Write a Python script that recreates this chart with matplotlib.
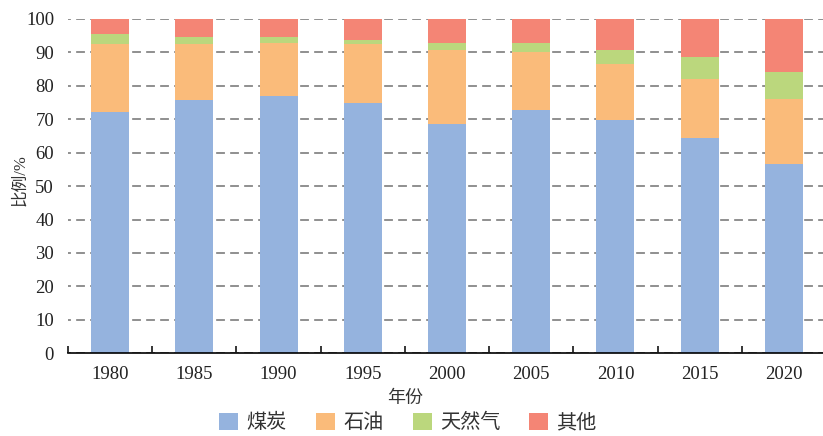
import numpy as np
import matplotlib.pyplot as plt
from matplotlib.patches import Patch

plt.rcParams['font.family'] = ['Liberation Serif', 'Noto Sans CJK SC']

years = ['1980', '1985', '1990', '1995', '2000', '2005', '2010', '2015', '2020']
coal = [72.2, 75.8, 77.0, 74.9, 68.6, 72.8, 69.8, 64.4, 56.6]
oil = [20.3, 16.7, 15.9, 17.7, 22.2, 17.4, 16.7, 17.6, 19.3]
gas = [3.0, 2.1, 1.7, 1.1, 2.0, 2.6, 4.2, 6.6, 8.2]
other = [4.5, 5.4, 5.4, 6.3, 7.2, 7.2, 9.3, 11.4, 15.9]

series_names = ['煤炭', '石油', '天然气', '其他']
colors = ['#95B3DE', '#FABB7A', '#BBD77D', '#F48575']

W, H = 823, 436
fig = plt.figure(figsize=(W / 100, H / 100), dpi=100)
ax = fig.add_axes([68 / W, (H - 353.3) / H, (826 - 68) / W, (353.3 - 18.9) / H])

x = np.arange(len(years))
bottom = np.zeros(len(years))
for vals, c in zip([coal, oil, gas, other], colors):
    ax.bar(x, vals, width=0.45, bottom=bottom, color=c, zorder=2)
    bottom += np.array(vals)

ax.set_xlim(-0.5, 8.5)
ax.set_ylim(0, 100)
ax.set_yticks(np.arange(0, 101, 10))
ax.set_xticks(x)
ax.set_xticklabels(years)
ax.set_xticks(np.arange(-0.5, 8.6, 1), minor=True)

# dashed horizontal grid, starting a little right of the axis origin
ax.set_axisbelow(True)
ax.grid(axis='y', color='#8f8f8f', linestyle=(3, (4.5, 2.7)), linewidth=1.4)
for s in ['top', 'right', 'left']:
    ax.spines[s].set_visible(False)
ax.spines['bottom'].set_linewidth(1.2)

ax.tick_params(axis='y', length=0, pad=10, labelsize=13.5, colors='#222222')
ax.tick_params(axis='x', which='major', length=0, pad=9, labelsize=13.5, colors='#222222')
ax.tick_params(axis='x', which='minor', direction='in', length=5, width=1.1)

fig.text(20 / W, 1 - 180 / H, '比例/%', rotation=90, ha='center', va='center',
         fontsize=12, color='#333333')
fig.text(405 / W, 1 - 398 / H, '年份', ha='center', va='center', fontsize=13, color='#333333')

handles = [Patch(facecolor=c, edgecolor='none') for c in colors]
fig.legend(handles, series_names, loc='center', bbox_to_anchor=(408 / W, 13 / H), ncol=4,
           frameon=False, fontsize=14.5, handlelength=0.95, handleheight=0.95,
           handletextpad=0.4, columnspacing=1.45, labelcolor='#333333')

fig.savefig('out.png', dpi=100)
